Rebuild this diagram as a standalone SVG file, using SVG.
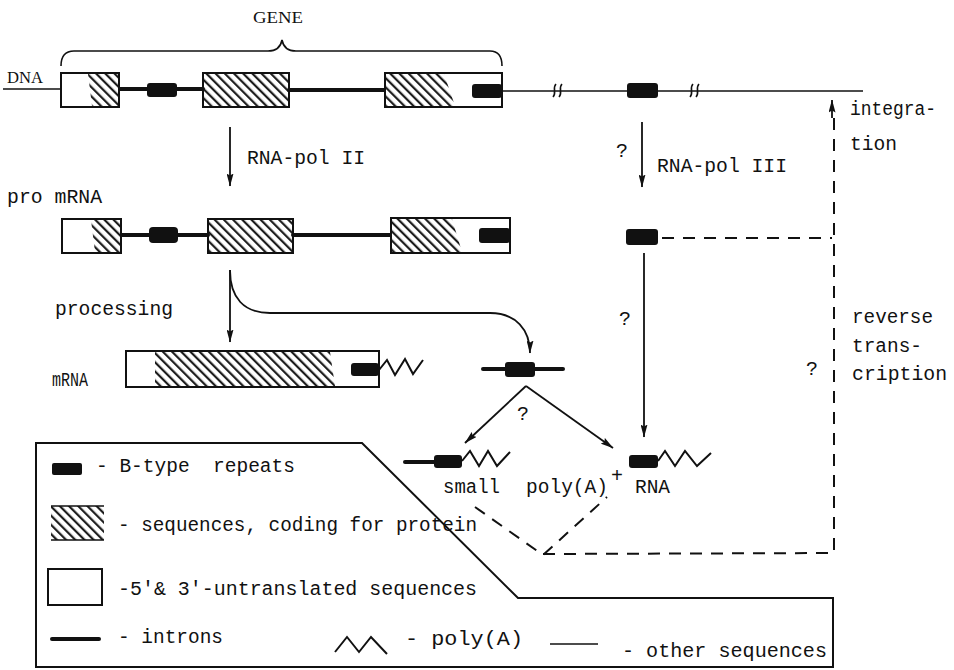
<svg xmlns="http://www.w3.org/2000/svg" width="954" height="670" viewBox="0 0 954 670">
  <style>
    .tw { font-family: "Liberation Mono", "Courier New", "Liberation Serif", serif; font-size: 20px; fill: #111; }
    .sf { font-family: "Liberation Serif", "Times New Roman", serif; fill: #111; }
    .box { fill: none; stroke: #111; stroke-width: 2; }
    .blank { fill: #fff; stroke: none; }
    .hatch { fill: url(#hatch); stroke: none; }
    .rep { fill: #111; stroke: none; }
    .intron { stroke: #111; stroke-width: 4; fill: none; stroke-linecap: round; }
    .thin { stroke: #111; stroke-width: 1.6; fill: none; }
    .zig { stroke: #111; stroke-width: 2; fill: none; stroke-linejoin: miter; }
    .arrow { stroke: #111; stroke-width: 1.8; fill: none; marker-end: url(#head); }
    .dash { stroke: #111; stroke-width: 2; fill: none; stroke-dasharray: 12 9; }
  </style>
  <defs>
    <pattern id="hatch" patternUnits="userSpaceOnUse" width="6.5" height="10" patternTransform="rotate(-45)">
      <line x1="3" y1="-2" x2="3" y2="12" stroke="#111" stroke-width="2.1"/>
    </pattern>
    <marker id="head" viewBox="0 0 13 7" markerWidth="13" markerHeight="7" refX="12.5" refY="3.5" orient="auto" markerUnits="userSpaceOnUse">
      <path d="M0,0 L13,3.5 L0,7 L2,3.5 z" fill="#111"/>
    </marker>
  </defs>

  <rect width="954" height="670" fill="#fff"/>

  <!-- gene brace and labels -->
  <g id="gene-brace">
    <path class="thin" stroke-width="2" d="M61,66 Q61,51 74,51 L268,51 Q280,51 282,40 Q284,51 296,51 L490,51 Q502,51 502,66"/>
    <text class="sf" x="253" y="23" font-size="17" textLength="50" lengthAdjust="spacingAndGlyphs">GENE</text>
  </g>

  <!-- DNA strand with gene -->
  <g id="dna">
    <text class="sf" x="7" y="83" font-size="16" textLength="36" lengthAdjust="spacingAndGlyphs">DNA</text>
    <line class="thin" x1="3" y1="89" x2="61" y2="89"/>
    <line class="thin" x1="502" y1="91" x2="863" y2="91"/>
    <line class="intron" x1="119" y1="89" x2="203" y2="89"/>
    <line class="intron" x1="289" y1="90" x2="385" y2="90"/>
    <rect class="rep" x="147" y="83" width="30" height="14" rx="3"/>
    <rect class="blank" x="61" y="73" width="58" height="34"/>
    <polygon class="hatch" points="88,74 118,74 118,106 92,106"/>
    <rect class="box" x="61" y="73" width="58" height="34"/>
    <rect class="hatch" x="204" y="74" width="84" height="32"/>
    <rect class="box" x="203" y="73" width="86" height="34"/>
    <rect class="blank" x="385" y="73" width="117" height="34"/>
    <polygon class="hatch" points="386,74 444,74 455,106 386,106"/>
    <rect class="rep" x="472" y="84" width="30" height="14" rx="3"/>
    <rect class="box" x="385" y="73" width="117" height="34"/>
    <!-- breaks in the strand -->
    <path class="thin" stroke-width="2" d="M553,97 C557,93 552,88 556,84 M559,97 C563,93 558,88 562,84"/>
    <path class="thin" stroke-width="2" d="M690,97 C694,93 689,88 693,84 M696,97 C700,93 695,88 699,84"/>
    <rect class="rep" x="627" y="83" width="31" height="15" rx="3"/>
  </g>

  <!-- precursor mRNA -->
  <g id="pro-mrna">
    <text class="tw" x="7" y="203" textLength="95" lengthAdjust="spacingAndGlyphs">pro mRNA</text>
    <line class="intron" x1="121" y1="235" x2="208" y2="235"/>
    <line class="intron" x1="293" y1="235" x2="391" y2="235"/>
    <rect class="rep" x="149" y="227" width="29" height="16" rx="4"/>
    <rect class="blank" x="62" y="219" width="59" height="34"/>
    <polygon class="hatch" points="91,220 120,220 120,252 95,252"/>
    <rect class="box" x="62" y="219" width="59" height="34"/>
    <rect class="hatch" x="209" y="220" width="83" height="32"/>
    <rect class="box" x="208" y="219" width="85" height="34"/>
    <rect class="blank" x="391" y="218" width="119" height="35"/>
    <polygon class="hatch" points="392,219 452,219 462,252 392,252"/>
    <rect class="rep" x="479" y="228" width="31" height="15" rx="3"/>
    <rect class="box" x="391" y="218" width="119" height="35"/>
  </g>

  <text class="tw" x="55" y="315" textLength="118" lengthAdjust="spacingAndGlyphs">processing</text>

  <!-- mature mRNA -->
  <g id="mrna">
    <text class="tw" x="52" y="386" font-size="17" textLength="36" lengthAdjust="spacingAndGlyphs">mRNA</text>
    <rect class="blank" x="126" y="351" width="253" height="36"/>
    <polygon class="hatch" points="155,352 330,352 335,386 155,386"/>
    <rect class="rep" x="351" y="363" width="28" height="13" rx="3"/>
    <rect class="box" x="126" y="351" width="253" height="36"/>
    <polyline class="zig" points="379,370 387,360 395,375 405,359 413,374 423,360"/>
  </g>

  <!-- excised intron carrying a repeat -->
  <g id="intron-product">
    <line class="intron" x1="483" y1="369" x2="563" y2="369"/>
    <rect class="rep" x="505" y="362" width="30" height="15" rx="3"/>
  </g>

  <!-- small polyadenylated RNA from the intron -->
  <g id="small-rna-a">
    <line class="intron" x1="405" y1="462" x2="436" y2="462"/>
    <rect class="rep" x="434" y="455" width="28" height="13" rx="3"/>
    <polyline class="zig" points="462,461 470,451 479,466 488,451 497,466 510,452"/>
  </g>

  <!-- pol III transcript -->
  <g id="pol3-transcript">
    <rect class="rep" x="626" y="229" width="32" height="16" rx="3"/>
  </g>

  <!-- small polyadenylated RNA from pol III -->
  <g id="small-rna-b">
    <rect class="rep" x="629" y="455" width="29" height="13" rx="3"/>
    <polyline class="zig" points="658,461 665,451 675,466 685,451 697,466 711,453"/>
  </g>

  <!-- labels -->
  <g id="labels">
    <text class="tw" x="247" y="164" textLength="118" lengthAdjust="spacingAndGlyphs">RNA-pol II</text>
    <text class="tw" x="657" y="172" textLength="130" lengthAdjust="spacingAndGlyphs">RNA-pol III</text>
    <text class="tw" x="616" y="157">?</text>
    <text class="tw" x="619" y="325">?</text>
    <text class="tw" x="517" y="420">?</text>
    <text class="tw" x="806" y="375">?</text>
    <text class="tw" x="850" y="115" textLength="86" lengthAdjust="spacingAndGlyphs">integra-</text>
    <text class="tw" x="850" y="150" textLength="47" lengthAdjust="spacingAndGlyphs">tion</text>
    <text class="tw" x="852" y="323" textLength="81" lengthAdjust="spacingAndGlyphs">reverse</text>
    <text class="tw" x="852" y="352" textLength="70" lengthAdjust="spacingAndGlyphs">trans-</text>
    <text class="tw" x="852" y="380" textLength="95" lengthAdjust="spacingAndGlyphs">cription</text>
    <text class="tw" x="443" y="493" textLength="57" lengthAdjust="spacingAndGlyphs">small</text>
    <text class="tw" x="526" y="493" textLength="82" lengthAdjust="spacingAndGlyphs">poly(A)</text>
    <text class="tw" x="611" y="482">+</text>
    <text class="tw" x="635" y="493" textLength="35" lengthAdjust="spacingAndGlyphs">RNA</text>
  </g>

  <!-- connectors -->
  <g id="connectors">
    <line class="arrow" x1="230" y1="127" x2="230" y2="186"/>
    <line class="arrow" x1="642" y1="122" x2="642" y2="187"/>
    <line class="arrow" x1="230" y1="270" x2="230" y2="342"/>
    <path class="arrow" d="M230,270 C230,298 244,313 270,313 L490,313 C516,313 530,330 530,353"/>
    <line class="arrow" x1="526" y1="386" x2="465" y2="443"/>
    <line class="arrow" x1="526" y1="386" x2="613" y2="448"/>
    <line class="arrow" x1="644" y1="253" x2="644" y2="437"/>
    <!-- dashed return path -->
    <line class="dash" x1="662" y1="238" x2="832" y2="238"/>
    <path class="dash" d="M475,507 L543,555 L607,497"/>
    <path class="dash" d="M543,554 L834,553 L834,116"/>
    <line class="arrow" x1="832" y1="118" x2="832" y2="100"/>
  </g>

  <!-- legend -->
  <g id="legend">
    <polygon class="box" points="36,443 362,443 518,598 833,598 833,667 36,667"/>
    <rect class="rep" x="52" y="463" width="30" height="12" rx="2"/>
    <text class="tw" x="96" y="472" xml:space="preserve" textLength="199" lengthAdjust="spacingAndGlyphs">- B-type  repeats</text>
    <rect class="hatch" x="51" y="506" width="53" height="34"/>
    <line class="thin" stroke-width="2" x1="51" y1="506" x2="104" y2="506"/>
    <line class="thin" stroke-width="2" x1="51" y1="540" x2="104" y2="540"/>
    <text class="tw" x="118" y="531" textLength="359" lengthAdjust="spacingAndGlyphs">- sequences, coding for protein</text>
    <rect class="box" x="48" y="569" width="54" height="36"/>
    <text class="tw" x="118" y="595" textLength="359" lengthAdjust="spacingAndGlyphs">-5'&amp; 3'-untranslated sequences</text>
    <line class="intron" x1="52" y1="639" x2="99" y2="639"/>
    <text class="tw" x="118" y="643" textLength="105" lengthAdjust="spacingAndGlyphs">- introns</text>
    <polyline class="zig" points="335,652 347,637 359,652 371,637 387,654"/>
    <text class="tw" x="405" y="645" textLength="118" lengthAdjust="spacingAndGlyphs">- poly(A)</text>
    <line class="thin" x1="550" y1="644" x2="598" y2="644"/>
    <text class="tw" x="622" y="657" textLength="205" lengthAdjust="spacingAndGlyphs">- other sequences</text>
  </g>
</svg>
